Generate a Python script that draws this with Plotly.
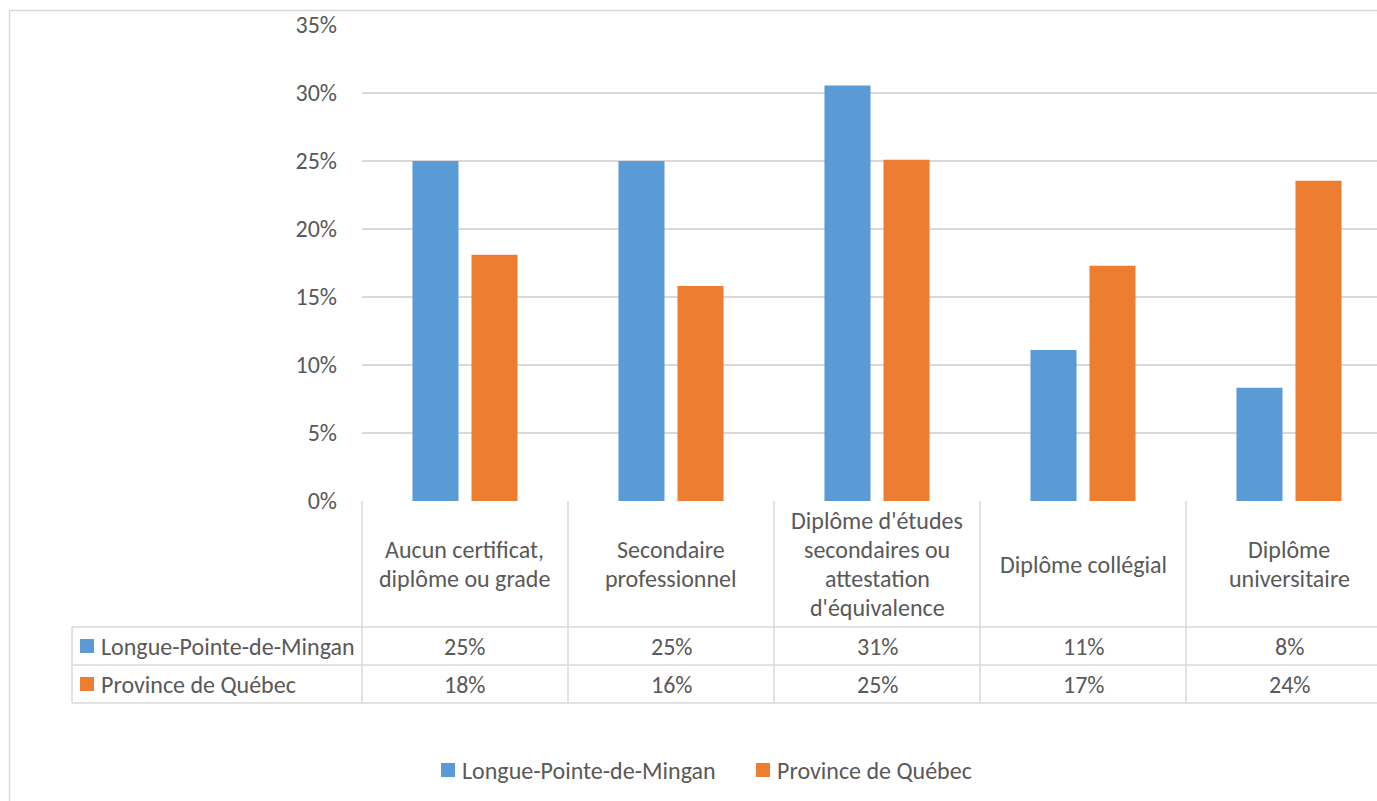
import plotly.graph_objects as go

# Education level shares: Longue-Pointe-de-Mingan vs Province de Québec
categories = [
    "Aucun certificat,<br>diplôme ou grade",
    "Secondaire<br>professionnel",
    "Diplôme d'études<br>secondaires ou<br>attestation<br>d'équivalence",
    "Diplôme collégial",
    "Diplôme<br>universitaire",
]
series_names = ["Longue-Pointe-de-Mingan", "Province de Québec"]
longue_pointe = [0.25, 0.25, 0.3056, 0.1111, 0.0833]
quebec = [0.181, 0.158, 0.251, 0.173, 0.2355]
y_ticks = [0, 0.05, 0.10, 0.15, 0.20, 0.25, 0.30, 0.35]

COLORS = ["#5B9BD5", "#ED7D31"]
TEXT = "#595959"
LINE = "#D9D9D9"
FONT = "Calibri, Carlito, Lato, sans-serif"
FS = 24

# Page geometry (pixels)
W, H = 1377, 801
PLOT_L = 362
CAT_W = 206
Y_TOP, Y_ZERO = 25, 501
ROW_HDR, ROW_1, ROW_2 = 627, 665, 703
TABLE_L = 72
LINE_H = 28.7


def px(x):
    return x / W


def py(y):
    return 1 - y / H


def cat_px(edge):
    return PLOT_L + (edge + 0.5) * CAT_W


x_idx = list(range(len(categories)))

fig = go.Figure()
for name, vals, col in zip(series_names, [longue_pointe, quebec], COLORS):
    fig.add_trace(go.Bar(x=x_idx, y=vals, name=name, marker_color=col,
                         marker_line_width=0, showlegend=False))

shapes = []
line = dict(color=LINE, width=1.5)
# outer chart frame
shapes.append(dict(type="rect", xref="paper", yref="paper",
                   x0=px(9.5), x1=1.05, y0=-0.05, y1=py(10.5),
                   line=dict(color=LINE, width=1.5)))
# data table grid
for y in (ROW_HDR, ROW_1, ROW_2):
    shapes.append(dict(type="line", xref="paper", yref="paper",
                       x0=px(TABLE_L), x1=1.0, y0=py(y), y1=py(y), line=line))
shapes.append(dict(type="line", xref="paper", yref="paper",
                   x0=px(TABLE_L), x1=px(TABLE_L), y0=py(ROW_HDR), y1=py(ROW_2), line=line))
for i in range(len(categories)):
    xp = cat_px(i - 0.5)
    shapes.append(dict(type="line", xref="paper", yref="paper",
                       x0=px(xp), x1=px(xp), y0=py(Y_ZERO), y1=py(ROW_2), line=line))
# legend keys inside the table
row_mid = [(ROW_HDR + ROW_1) / 2, (ROW_1 + ROW_2) / 2]
for yc, col in zip(row_mid, COLORS):
    shapes.append(dict(type="rect", xref="paper", yref="paper",
                       x0=px(80), x1=px(94), y0=py(yc + 7), y1=py(yc - 7),
                       fillcolor=col, line=dict(width=0)))
# bottom legend keys
LEG_Y = 770
LEG_KEY_X = [441, 756]
LEG_TEXT_X = [460, 775]
for x0, col in zip(LEG_KEY_X, COLORS):
    shapes.append(dict(type="rect", xref="paper", yref="paper",
                       x0=px(x0), x1=px(x0 + 14), y0=py(LEG_Y + 7), y1=py(LEG_Y - 7),
                       fillcolor=col, line=dict(width=0)))

ann = []
font = dict(family=FONT, size=FS, color=TEXT)
# category headers, one annotation per text line
hdr_mid = (Y_ZERO + ROW_HDR) / 2
for i, c in enumerate(categories):
    parts = c.split("<br>")
    for j, part in enumerate(parts):
        yc = hdr_mid + (j - (len(parts) - 1) / 2) * LINE_H
        ann.append(dict(x=i, xref="x", y=py(yc), yref="paper",
                        text=part, showarrow=False, xanchor="center", yanchor="middle",
                        font=font))
# value rows
for r, (name, vals) in enumerate(zip(series_names, [longue_pointe, quebec])):
    yc = row_mid[r]
    ann.append(dict(x=px(99), xref="paper", y=py(yc), yref="paper", text=name,
                    showarrow=False, xanchor="left", yanchor="middle", font=font))
    for i, v in enumerate(vals):
        ann.append(dict(x=i, xref="x", y=py(yc), yref="paper", text=f"{v:.0%}",
                        showarrow=False, xanchor="center", yanchor="middle", font=font))
# bottom legend labels
for x0, name in zip(LEG_TEXT_X, series_names):
    ann.append(dict(x=px(x0), xref="paper", y=py(LEG_Y), yref="paper", text=name,
                    showarrow=False, xanchor="left", yanchor="middle", font=font))

fig.update_layout(
    width=W, height=H,
    margin=dict(l=0, r=0, t=0, b=0, autoexpand=False),
    paper_bgcolor="white", plot_bgcolor="white",
    barmode="group", bargap=0.427, bargroupgap=0.22,
    font=font,
    shapes=shapes, annotations=ann,
    xaxis=dict(domain=[px(PLOT_L), 1.0], range=[-0.5, -0.5 + (W - PLOT_L) / CAT_W],
               showticklabels=False, showgrid=False, zeroline=False,
               showline=False, ticks="", automargin=False),
    yaxis=dict(domain=[py(Y_ZERO), py(Y_TOP)], range=[0, 0.35],
               tickvals=y_ticks, tickformat=".0%", showgrid=True,
               gridcolor=LINE, gridwidth=1.5, zeroline=False, showline=False,
               ticks="", ticklabelstandoff=24, tickfont=font, automargin=False),
)

fig.write_html("out.html")
